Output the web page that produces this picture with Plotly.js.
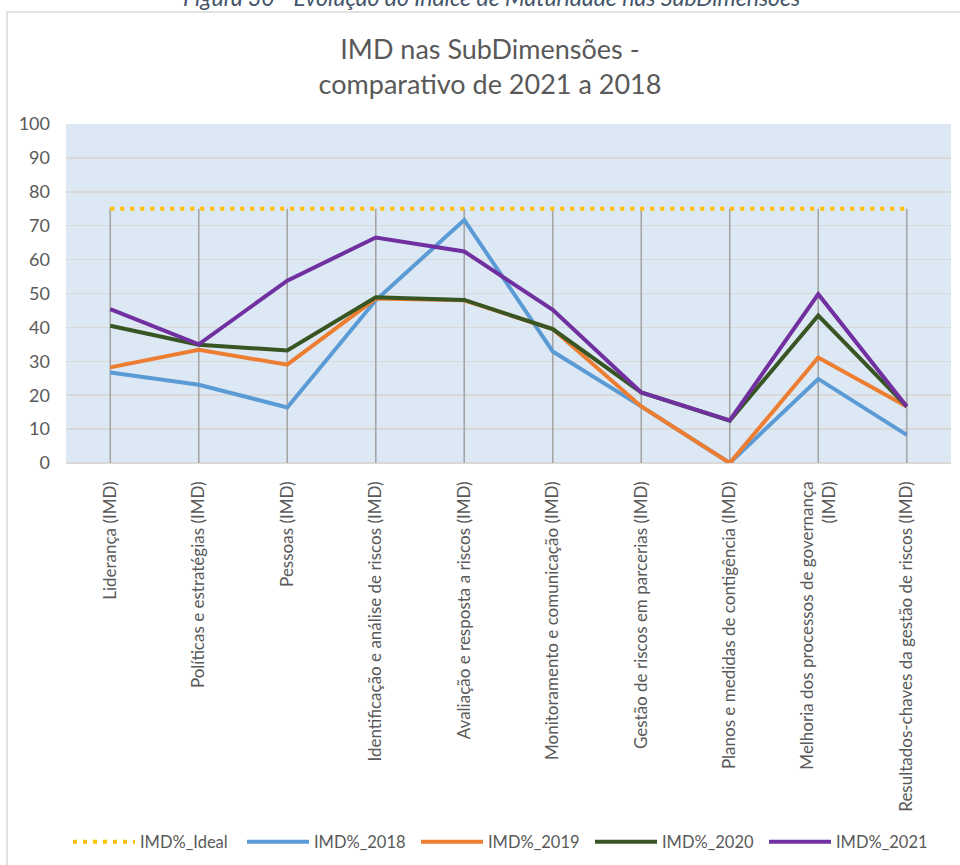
<!DOCTYPE html>
<html>
<head>
<meta charset="utf-8">
<script src="https://cdn.plot.ly/plotly-3.0.1.min.js"></script>
<style>
  html, body { margin: 0; padding: 0; background: #ffffff; }
  #chart { width: 960px; height: 865px; }
</style>
</head>
<body>
<div id="chart"></div>
<script>
const categories = [
  "Liderança (IMD)",
  "Políticas e estratégias (IMD)",
  "Pessoas (IMD)",
  "Identificação e análise de riscos (IMD)",
  "Avaliação e resposta a riscos (IMD)",
  "Monitoramento e comunicação (IMD)",
  "Gestão de riscos em parcerias (IMD)",
  "Planos e medidas de contigência (IMD)",
  "Melhoria dos processos de governança<br>(IMD)",
  "Resultados-chaves da gestão de riscos (IMD)"
];
const seriesNames = ["IMD%_Ideal", "IMD%_2018", "IMD%_2019", "IMD%_2020", "IMD%_2021"];
const imdIdeal = [75, 75, 75, 75, 75, 75, 75, 75, 75, 75];
const imd2018 = [26.7, 23.1, 16.4, 48.0, 71.7, 32.9, 16.7, 0, 24.8, 8.3];
const imd2019 = [28.2, 33.4, 29.0, 48.5, 48.0, 39.5, 16.7, 0, 31.1, 16.7];
const imd2020 = [40.5, 34.9, 33.2, 48.9, 48.1, 39.5, 20.8, 12.5, 43.5, 16.7];
const imd2021 = [45.4, 35.0, 53.8, 66.5, 62.4, 45.2, 20.8, 12.6, 49.8, 16.7];
const yTicks = [0, 10, 20, 30, 40, 50, 60, 70, 80, 90, 100];

const colors = ["#FFC000", "#5B9BD5", "#ED7D31", "#375623", "#7030A0"];
const textColor = "#595959";
const fontFamily = "Lato, 'Open Sans', sans-serif";

const idx = categories.map((_, i) => i);

const traces = [
  {
    x: idx, y: imdIdeal, name: seriesNames[0], type: "scatter", mode: "lines",
    line: { color: colors[0], width: 4, dash: "4px,6px" },
    error_y: { type: "data", symmetric: false, array: imdIdeal.map(() => 0), arrayminus: imdIdeal,
               color: "#A5A5A5", thickness: 1.6, width: 0 }
  },
  { x: idx, y: imd2018, name: seriesNames[1], type: "scatter", mode: "lines", line: { color: colors[1], width: 4 } },
  { x: idx, y: imd2019, name: seriesNames[2], type: "scatter", mode: "lines", line: { color: colors[2], width: 4 } },
  { x: idx, y: imd2020, name: seriesNames[3], type: "scatter", mode: "lines", line: { color: colors[3], width: 4 } },
  { x: idx, y: imd2021, name: seriesNames[4], type: "scatter", mode: "lines", line: { color: colors[4], width: 4 } }
];

const plotTop = 124, plotBottom = 463, plotH = plotBottom - plotTop;
const pyToPaper = (py) => (plotBottom - py) / plotH;
const plotLeft = 66, plotRight = 951, plotW = plotRight - plotLeft;
const pxToPaper = (px) => (px - plotLeft) / plotW;

const layout = {
  width: 960, height: 865,
  margin: { l: plotLeft, r: 960 - plotRight, t: plotTop, b: 865 - plotBottom, pad: 0, autoexpand: false },
  paper_bgcolor: "#ffffff",
  plot_bgcolor: "#DDE8F5",
  font: { family: fontFamily, color: textColor, size: 15 },
  showlegend: true,
  hovermode: false,
  title: {
    text: "IMD nas SubDimensões -<br>comparativo de 2021 a 2018",
    font: { family: fontFamily, size: 27, color: textColor },
    x: 490 / 960, xanchor: "center", xref: "container",
    y: 1 - 59 / 865, yanchor: "top", yref: "container"
  },
  xaxis: {
    type: "linear",
    range: [-0.5, categories.length - 0.5],
    tickmode: "array", tickvals: idx, ticktext: categories,
    tickangle: -90,
    showgrid: false, zeroline: false, showline: false,
    ticks: "", ticklabelstandoff: 14,
    tickfont: { family: fontFamily, size: 17, color: textColor },
    automargin: false,
    fixedrange: true
  },
  yaxis: {
    range: [0, 100],
    tickmode: "array", tickvals: yTicks, ticktext: yTicks.map(String),
    showgrid: true, gridcolor: "#D9D9D9", gridwidth: 1.5,
    zeroline: true, zerolinecolor: "#D9D9D9", zerolinewidth: 1.5,
    showline: false, ticks: "", ticklabelstandoff: 15,
    tickfont: { family: fontFamily, size: 18, color: textColor },
    automargin: false,
    fixedrange: true
  },
  legend: {
    orientation: "h",
    x: 68 / 960, xanchor: "left", xref: "container",
    y: 1 - 842 / 865, yanchor: "middle", yref: "container",
    font: { family: fontFamily, size: 16.5, color: textColor },
    entrywidth: 97, entrywidthmode: "pixels",
    itemwidth: 62,
    bgcolor: "rgba(0,0,0,0)"
  },
  annotations: [
    {
      text: "<i>Figura 30 - Evolução do Índice de Maturidade nas SubDimensões</i>",
      xref: "paper", yref: "paper",
      x: pxToPaper(491), xanchor: "center",
      y: pyToPaper(13), yanchor: "bottom",
      showarrow: false,
      font: { family: fontFamily, size: 23, color: "#44546A" }
    }
  ],
  shapes: [
    {
      type: "rect", xref: "paper", yref: "paper", layer: "below",
      x0: pxToPaper(7), x1: pxToPaper(975), y0: pyToPaper(880), y1: pyToPaper(12),
      line: { color: "#D9D9D9", width: 1.5 }, fillcolor: "rgba(0,0,0,0)"
    }
  ]
};

Plotly.newPlot("chart", traces, layout, { displayModeBar: false, staticPlot: true });
</script>
</body>
</html>
